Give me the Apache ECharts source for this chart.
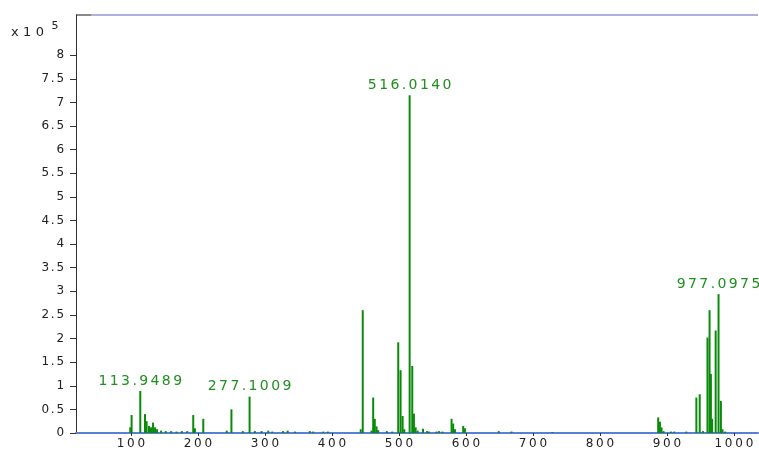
<!DOCTYPE html>
<html>
<head>
<meta charset="utf-8">
<script src="https://cdn.jsdelivr.net/npm/echarts@6/dist/echarts.min.js"></script>
<style>
  html, body { margin: 0; padding: 0; background: #ffffff; }
  #chart { width: 759px; height: 453px; }
</style>
</head>
<body>
<div id="chart"></div>
<script>
// Mass spectrum: m/z positions and intensities (in units of 10^5 counts)
const mz = [
  99, 101, 113.9489, 121, 123.4, 127, 130, 133, 136, 139,
  145, 152, 160, 168, 176, 184, 193, 195.5, 208,
  243, 250, 267, 277.1009, 285, 295, 305, 311, 327, 334, 345, 367, 372, 387, 394,
  443, 446, 459, 461.6, 464, 466.6, 469, 482, 490,
  499, 502.5, 505.5, 508, 516.014, 519.9, 522.4, 525, 528,
  536, 542, 545, 556, 560, 565,
  578.6, 581, 583.6, 596, 598.5,
  649, 668, 729,
  887, 889.6, 892, 895, 906, 911, 929,
  944, 949, 954, 960.6, 963.7, 965.7, 967.6,
  972.8, 977.0975, 980.6, 983, 987
];
const intensity = [
  0.12, 0.38, 0.89, 0.40, 0.25, 0.15, 0.12, 0.22, 0.12, 0.08,
  0.05, 0.04, 0.04, 0.03, 0.04, 0.04, 0.38, 0.10, 0.30,
  0.05, 0.50, 0.04, 0.77, 0.04, 0.04, 0.05, 0.03, 0.04, 0.05, 0.03, 0.04, 0.03, 0.03, 0.03,
  0.08, 2.60, 0.05, 0.75, 0.30, 0.14, 0.06, 0.04, 0.03,
  1.92, 1.33, 0.36, 0.08, 7.15, 1.42, 0.41, 0.12, 0.05,
  0.09, 0.04, 0.03, 0.03, 0.04, 0.03,
  0.30, 0.20, 0.08, 0.15, 0.10,
  0.04, 0.03, 0.02,
  0.33, 0.24, 0.12, 0.04, 0.03, 0.03, 0.03,
  0.75, 0.82, 0.04, 2.02, 2.60, 1.25, 0.30,
  2.17, 2.94, 0.68, 0.08, 0.03
];
// Peaks annotated with their m/z value
const labeledPeaks = [113.9489, 277.1009, 516.014, 977.0975];

const xTicks = [100, 200, 300, 400, 500, 600, 700, 800, 900, 1000];
const yTicks = [0, 0.5, 1, 1.5, 2, 2.5, 3, 3.5, 4, 4.5, 5, 5.5, 6, 6.5, 7, 7.5, 8];

// Wide-set lettering: each character becomes its own padded rich fragment
function spaced(s) {
  return String(s).split('').map(function (c) { return '{c|' + c + '}'; }).join('');
}

const seriesData = mz.map(function (m, i) {
  const item = { value: [m, intensity[i]] };
  if (labeledPeaks.indexOf(m) >= 0) {
    item.label = { show: true };
  }
  return item;
});

const axisFont = { fontFamily: 'DejaVu Sans', fontSize: 12, color: '#222222' };

const chart = echarts.init(document.getElementById('chart'), null, { renderer: 'canvas' });

chart.setOption({
  animation: false,
  backgroundColor: '#ffffff',
  grid: { left: 76, right: 1, top: 15, bottom: 20, containLabel: false },
  xAxis: {
    type: 'value',
    min: 18,
    max: 1036,
    splitLine: { show: false },
    axisLine: { show: true, onZero: false, lineStyle: { color: '#5b7fd8', width: 2 } },
    axisTick: { show: true, customValues: xTicks, length: 3, lineStyle: { color: '#333333' } },
    axisLabel: {
      customValues: xTicks,
      margin: 5,
      color: '#222222',
      fontFamily: 'DejaVu Sans',
      fontSize: 12,
      formatter: function (v) { return spaced(v); },
      rich: { c: Object.assign({ padding: [0, 1.4, 0, 1.4] }, axisFont) }
    }
  },
  yAxis: {
    type: 'value',
    min: 0,
    max: 8.85,
    splitLine: { show: false },
    axisLine: { show: true, lineStyle: { color: '#333333', width: 1 } },
    axisTick: { show: true, customValues: yTicks, length: 6, lineStyle: { color: '#333333' } },
    axisLabel: {
      customValues: yTicks,
      margin: 11,
      color: '#222222',
      fontFamily: 'DejaVu Sans',
      fontSize: 12,
      formatter: function (v) { return spaced(v); },
      rich: { c: Object.assign({ padding: [0, 0.9, 0, 0.9] }, axisFont) }
    }
  },
  series: [{
    type: 'bar',
    barWidth: 2,
    itemStyle: { color: '#0a8a0a' },
    label: {
      show: false,
      position: 'top',
      distance: 3,
      color: '#1f8f1f',
      formatter: function (p) { return spaced(p.value[0].toFixed(4)); },
      rich: { c: { fontFamily: 'DejaVu Sans', fontSize: 14, color: '#1f8f1f', padding: [0, 1.2, 0, 1.2] } }
    },
    data: seriesData
  }],
  graphic: [
    // frame top edge
    { type: 'line', shape: { x1: 76, y1: 15, x2: 91, y2: 15 }, style: { stroke: '#8a8a8a', lineWidth: 2 } },
    { type: 'line', shape: { x1: 91, y1: 15, x2: 758, y2: 15 }, style: { stroke: '#b0b0de', lineWidth: 2 } },
    // intensity multiplier
    {
      type: 'text', left: 11, top: 21,
      style: {
        text: '{a|x}{a|1}{a|0} {s|5}',
        rich: {
          a: { fontFamily: 'DejaVu Sans', fontSize: 13, fill: '#222222', padding: [7, 2.2, 0, 2.2] },
          s: { fontFamily: 'DejaVu Sans', fontSize: 11, fill: '#222222', padding: [0, 0, 6, 2] }
        }
      }
    }
  ]
});
</script>
</body>
</html>
